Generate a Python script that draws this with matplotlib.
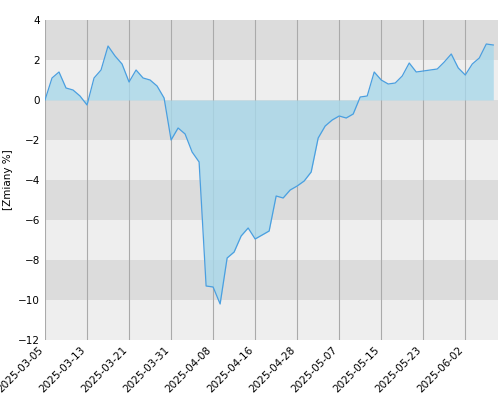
import matplotlib
matplotlib.use("Agg")
import matplotlib.pyplot as plt
import numpy as np

values = [0, 1.1, 1.4, 0.6, 0.5, 0.2, -0.25, 1.1, 1.5, 2.7, 2.2, 1.8, 0.9, 1.5, 1.1, 1.0,
          0.7, 0.1, -2.0, -1.4, -1.7, -2.6, -3.1, -9.3, -9.35, -10.2, -7.9, -7.6, -6.8, -6.4,
          -6.95, -6.75, -6.55, -4.8, -4.9, -4.5, -4.3, -4.05, -3.6, -1.9, -1.3, -1.0, -0.8,
          -0.9, -0.7, 0.15, 0.2, 1.4, 1.0, 0.8, 0.85, 1.2, 1.85, 1.4, 1.45, 1.5, 1.55, 1.9,
          2.3, 1.6, 1.25, 1.8, 2.1, 2.8, 2.75]
tick_labels = ["2025-03-05", "2025-03-13", "2025-03-21", "2025-03-31", "2025-04-08",
               "2025-04-16", "2025-04-28", "2025-05-07", "2025-05-15", "2025-05-23", "2025-06-02"]
yticks = [-12, -10, -8, -6, -4, -2, 0, 2, 4]

x = np.arange(len(values))
fig = plt.figure(figsize=(5, 4), dpi=100)
ax = fig.add_axes([0.09, 0.15, 0.905, 0.80])
for lo in range(-12, 4, 2):
    ax.axhspan(lo, lo + 2, color="#dcdcdc" if (lo // 2) % 2 == 1 else "#eeeeee", zorder=0, lw=0)
tpos = x[::6][:len(tick_labels)]
for t in tpos:
    ax.axvline(t, color="#aaaaaa", lw=0.8, zorder=1)
ax.fill_between(x, values, 0, color="#a8d8ea", alpha=0.8, zorder=2, lw=0)
ax.plot(x, values, color="#4a9fe0", lw=0.9, zorder=3)
ax.set_xlim(0, len(values) - 0.4)
ax.set_ylim(-12, 4)
ax.set_yticks(yticks)
ax.set_xticks(tpos)
ax.set_xticklabels(tick_labels, rotation=45, ha="right", fontsize=7.5)
ax.tick_params(axis="y", labelsize=7.5, length=0)
ax.tick_params(axis="x", length=0)
ax.set_ylabel("[Zmiany %]", fontsize=7.5)
for s in ax.spines.values():
    s.set_visible(False)
fig.savefig("out.png")
